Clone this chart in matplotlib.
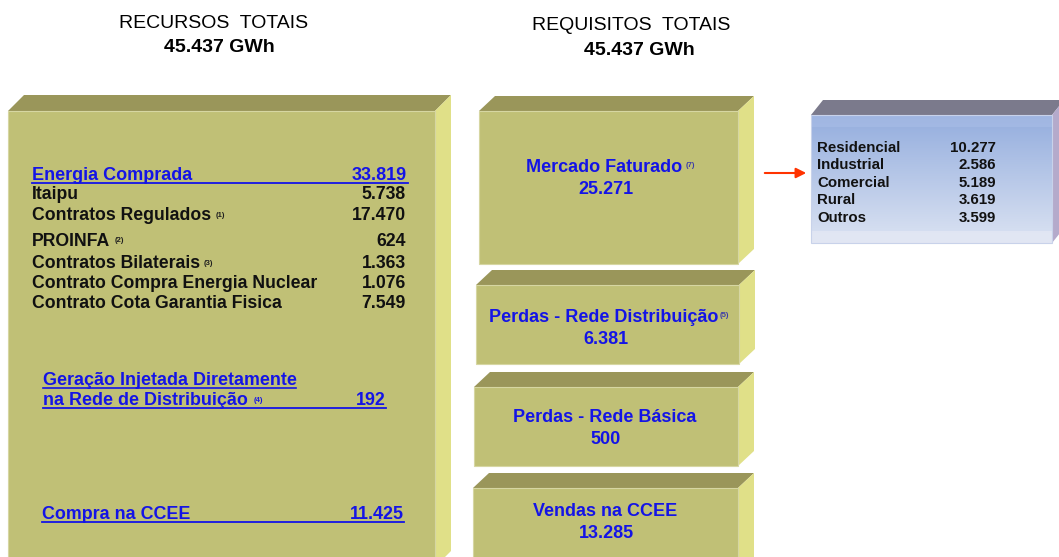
import matplotlib.pyplot as plt
import numpy as np
from matplotlib.patches import Polygon, FancyArrowPatch

# totais
total_recursos = '45.437 GWh'
total_requisitos = '45.437 GWh'

# recursos (GWh)
compra_label = 'Energia Comprada'
compra_valor = '33.819'
recursos_labels = ['Itaipu', 'Contratos Regulados', 'PROINFA', 'Contratos Bilaterais',
                   'Contrato Compra Energia Nuclear', 'Contrato Cota Garantia Fisica']
recursos_valores = ['5.738', '17.470', '624', '1.363', '1.076', '7.549']
recursos_notas = ['', '(1)', '(2)', '(3)', '', '']
geracao_valor = '192'
ccee_compra_valor = '11.425'

# requisitos (GWh)
requisitos_labels = ['Mercado Faturado', 'Perdas - Rede Distribuição', 'Perdas - Rede Básica', 'Vendas na CCEE']
requisitos_valores = ['25.271', '6.381', '500', '13.285']
requisitos_notas = ['(7)', '(5)', '', '']

# mercado faturado por classe
classes = ['Residencial', 'Industrial', 'Comercial', 'Rural', 'Outros']
classes_valores = ['10.277', '2.586', '5.189', '3.619', '3.599']

FRONT = '#c0c076'
TOP = '#9a965a'
SIDE = '#e0e088'
BLUE = '#1414e6'
FONT = 'Liberation Sans'

fig = plt.figure(figsize=(10.59, 5.57), dpi=100)
ax = fig.add_axes([0, 0, 1, 1])
ax.set_xlim(0, 1059)
ax.set_ylim(557, 0)
ax.axis('off')


def caixa(x0, y0, x1, y1, dx, dy, front=FRONT, top=TOP, side=SIDE):
    ax.add_patch(Polygon([(x0, y0), (x0 + dx, y0 - dy), (x1 + dx, y0 - dy), (x1, y0)],
                         closed=True, fc=top, ec='none'))
    ax.add_patch(Polygon([(x1, y0), (x1 + dx, y0 - dy), (x1 + dx, y1 - dy), (x1, y1)],
                         closed=True, fc=side, ec='none'))
    if front is not None:
        ax.add_patch(Polygon([(x0, y0), (x1, y0), (x1, y1), (x0, y1)],
                             closed=True, fc=front, ec='#d6d6a2', lw=0.8))


def nota(t, txt, y, gap=4, color='#202020'):
    # pequena nota de rodape logo depois do texto
    fig.canvas.draw()
    bb = t.get_window_extent(renderer=fig.canvas.get_renderer())
    ax.text(bb.x1 + gap, y, txt, fontsize=5.5, fontweight='bold', family=FONT,
            color=color, ha='left', va='baseline')


def txt(x, y, s, size, color='#111111', ha='left', weight='bold'):
    return ax.text(x, y, s, fontsize=size, family=FONT, fontweight=weight, color=color,
                   ha=ha, va='baseline', zorder=3)


# titulos
txt(214, 28.5, 'RECURSOS  TOTAIS', 14, color='black', ha='center', weight='normal')
txt(219, 51.5, total_recursos, 14, color='black', ha='center')
txt(631, 30.5, 'REQUISITOS  TOTAIS', 14, color='black', ha='center', weight='normal')
txt(639, 55, total_requisitos, 14, color='black', ha='center')

# caixa recursos
caixa(8, 111, 435, 567, 16, 16)

txt(32, 180, compra_label, 13, BLUE)
txt(407, 180, compra_valor, 13, BLUE, ha='right')
ax.plot([32, 408], [182.8, 182.8], color=BLUE, lw=1.3)

ys = [199.3, 220, 245.5, 267.7, 288.3, 307.5]
for y, lab, val, nt in zip(ys, recursos_labels, recursos_valores, recursos_notas):
    t = txt(32, y, lab, 12.7)
    txt(406, y, val, 12.7, ha='right')
    if nt:
        nota(t, nt, y - 3)

txt(43, 385, 'Geração Injetada Diretamente', 12.9, BLUE)
ax.plot([43, 296], [387.8, 387.8], color=BLUE, lw=1.2)
t = txt(43, 405.3, 'na Rede de Distribuição', 12.9, BLUE)
nota(t, '(4)', 402.5, gap=6, color=BLUE)
txt(386, 405.3, geracao_valor, 12.9, BLUE, ha='right')
ax.plot([43, 386], [408, 408], color=BLUE, lw=1.3)

txt(42, 519.3, 'Compra na CCEE', 12.9, BLUE)
txt(404, 519.3, ccee_compra_valor, 12.9, BLUE, ha='right')
ax.plot([42, 404], [522, 522], color=BLUE, lw=1.3)

# caixas requisitos
boxes = [(479, 111, 738, 264), (476, 285, 739, 364), (474, 387, 738, 466), (473, 488, 738, 580)]
base_lab = [171.7, 321.7, 421.7, 515.7]
for (x0, y0, x1, y1), yl, lab, val, nt in zip(boxes, base_lab, requisitos_labels,
                                              requisitos_valores, requisitos_notas):
    caixa(x0, y0, x1, y1, 16, 15)
    cx = 604 if nt else 605
    t = txt(cx, yl, lab, 13, BLUE, ha='center')
    txt(606, yl + 21.8, val, 13, BLUE, ha='center')
    if nt:
        nota(t, nt, yl - 5, gap=4 if nt == '(7)' else 1, color='#3c3ca8')

# seta
ax.add_patch(FancyArrowPatch((762, 173), (809, 173), arrowstyle='-|>,head_length=6,head_width=3',
                             color='#ff3300', lw=1.5, mutation_scale=1))

# caixa azul
bx0, by0, bx1, by1 = 811, 115, 1052, 243
caixa(bx0, by0, bx1, by1, 12, 15, front=None, top='#7b7a8c', side='#b4aacb')
grad = np.linspace(0, 1, 128)[:, None]
c_top = np.array([0.58, 0.68, 0.87])
c_bot = np.array([0.86, 0.89, 0.95])
img = c_top[None, None, :] * (1 - grad[:, :, None]) + c_bot[None, None, :] * grad[:, :, None]
ax.imshow(img, extent=(bx0, bx1, by1, by0), aspect='auto', zorder=1)
ax.add_patch(Polygon([(bx0, by0), (bx1, by0), (bx1, by0 + 12), (bx0, by0 + 12)], closed=True,
                     fc='#a9bde6', ec='none', alpha=0.6, zorder=1.5))
ax.add_patch(Polygon([(bx0, by1 - 12), (bx1, by1 - 12), (bx1, by1), (bx0, by1)], closed=True,
                     fc='#e4e8f4', ec='none', alpha=0.8, zorder=1.5))
ax.add_patch(Polygon([(bx0, by0), (bx1, by0), (bx1, by1), (bx0, by1)], closed=True,
                     fc='none', ec='#c8d2ea', lw=0.8, zorder=1.6))

for i, (lab, val) in enumerate(zip(classes, classes_valores)):
    y = 151.7 + i * 17.5
    txt(817, y, lab, 10.8)
    txt(996, y, val, 10.8, ha='right')

ax.set_xlim(0, 1059)
ax.set_ylim(557, 0)
fig.savefig('out.png', dpi=100)
